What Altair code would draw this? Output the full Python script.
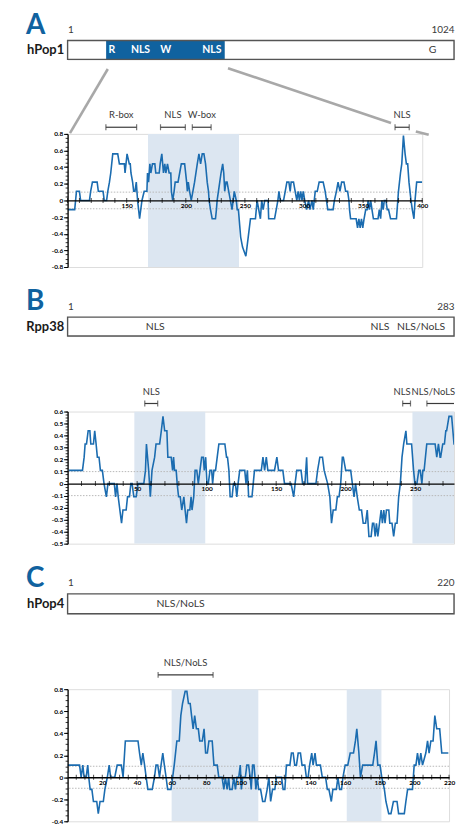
import altair as alt
import pandas as pd

BLUE = "#10629f"
LINE_BLUE = "#1b6cb0"
SHADE = "#dce6f1"
DARK = "#3a3a3a"
CONN = "#a8a8a8"
FONT = "Lato"

# ---------------- Panel A : hPop1 ----------------
A_LETTER = "A"
A_NAME = "hPop1"
A_LEN = 1024
A_DOMAIN = [103, 417]
A_WHITE_TXT = ["R", "NLS", "W", "NLS"]
A_WHITE_POS = [118, 194, 261, 383]
A_GRAY_TXT = ["G"]
A_GRAY_POS = [967]

A_RES = [100, 106, 107.5, 110, 111, 118.5, 119.5, 121, 125, 126, 130, 131, 133, 134, 135.4, 136.5,
         138.2, 142.4, 143.8, 148, 148.6, 150.3, 152.2, 153, 153.6, 155, 155.9, 157, 158.1, 159.2,
         160.9, 162.9, 164.8, 167.1, 167.6, 168.5, 169.6, 170.4, 171.8, 173.8, 174.6, 177.5, 178.3,
         179.7, 181.1, 182.2, 183.1, 184.5, 185.9, 187.3, 187.8, 188.9, 190.1, 191, 193.4, 194.8,
         196.2, 199, 200.7, 201.3, 202.1, 203.2, 204.6, 206, 207.4, 209.7, 211.1, 212.5, 213.9,
         215.3, 216.7, 218.1, 219.2, 219.7, 220.9, 222.3, 225.1, 225.9, 226.5, 227.6, 228.7, 229.8,
         231.2, 232.1, 232.9, 234, 234.9, 236.3, 237.7, 239.1, 241, 242.7, 243.5, 244.5, 246.4,
         248, 250.8, 252.8, 254.7, 258.9, 260.3, 261.7, 263.1, 264.2, 265.4, 266.8, 269.6, 270.1,
         275.1, 276.5, 277.9, 278.8, 279.9, 282.7, 284.1, 285.5, 287.2, 288.3, 289.1, 291.1, 292.5,
         293.9, 295, 296.1, 297.2, 298.3, 299.4, 300.6, 302.2, 303.9, 305, 306.7, 307.8, 309.5,
         311.2, 312.8, 316.2, 317.9, 319, 320.1, 324.6, 325.7, 327.4, 328.8, 330.4, 331.8, 333.8,
         335.2, 336.9, 338, 338.5, 339.4, 344.1, 345.3, 346.4, 347.5, 348.6, 349.7, 350.8, 352.2,
         353.4, 354.2, 355.3, 356.4, 357.5, 358.7, 362.6, 363.7, 364.8, 365.9, 367, 367.9, 369.3,
         370.4, 371.5, 373.2, 378.2, 379.9, 381.6, 382.7, 384.1, 385.5, 386.6, 387.7, 388.8, 390.5,
         391.6, 393, 393.9, 395.3, 400]
A_VAL = [-0.11, -0.11, 0.11, 0.11, 0, 0, 0.11, 0.22, 0.22, 0.11, 0.11, 0, 0, 0.11, 0.22, 0.33,
         0.56, 0.56, 0.44, 0.44, 0.33, 0.56, 0.44, 0.44, 0.33, 0.22, 0.11, 0.11, 0.22, 0,
         -0.22, 0, 0.11, 0.11, 0.33, 0.22, 0.44, 0.33, 0.44, 0.44, 0.33, 0.33, 0.44,
         0.56, 0.33, 0.44, 0.33, 0.44, 0.33, 0.33, 0.11, 0, 0.11, 0.22, 0.22, 0.33,
         0.44, 0.44, 0.22, 0.11, 0.22, 0.11, 0, 0.11, 0.22, 0.44, 0.56, 0.44, 0.56,
         0.56, 0.44, 0.22, 0.11, 0, -0.11, -0.22, -0.22, -0.11, 0, 0.11, 0.22, 0.33,
         0.44, 0.33, 0.11, 0.22, 0.22, 0.11, 0, -0.11, 0.11, 0, -0.11, -0.11, -0.44,
         -0.56, -0.67, -0.44, -0.22, -0.22, 0, -0.11, -0.22, 0, -0.11, 0, 0, -0.22,
         -0.22, -0.11, 0, 0.11, 0, 0, 0.11, 0.22, 0.22, 0.11, 0.22, 0.22, 0.11,
         0, 0.11, 0, 0.11, 0, 0.11, 0, -0.11, 0, -0.11, 0, -0.11, 0.11,
         0.11, 0.22, 0.22, 0.11, 0, -0.11, -0.11, 0, 0.11, 0.22, 0.11, 0.22, 0.22,
         0.11, 0.11, 0, -0.11, -0.22, -0.22, -0.33, -0.22, -0.33, -0.22, -0.33, -0.22, -0.11,
         -0.11, 0, -0.11, 0, -0.11, -0.22, -0.22, -0.11, -0.22, 0, -0.11, 0, 0,
         -0.11, -0.11, -0.22, -0.22, 0.11, 0.33, 0.44, 0.78, 0.56, 0.44, 0.44, 0.22, 0,
         -0.11, -0.22, 0, 0.22, 0.22]
A_SHADE_START = [168]
A_SHADE_END = [245]
A_BR_LABEL = ["R-box", "NLS", "W-box", "NLS"]
A_BR_START = [132.4, 178.6, 205.5, 377]
A_BR_END = [158.4, 199.6, 221.4, 389]
A_BR_CAPS = [132.4, 158.4, 178.6, 199.6, 205.5, 221.4, 377, 389]
A_BR_TEXT_X = [145.4, 189.1, 213.5, 383]
A_BR_LEVEL = 0.88
A_CONN_SEG = ["l", "l", "r1", "r1", "r2", "r2"]
A_CONN_X = [102, 134, 235.7, 373.6, 394.6, 405.5]
A_CONN_Y = [0.81, 1.58, 1.59, 0.93, 0.83, 0.79]

# ---------------- Panel B : Rpp38 ----------------
B_LETTER = "B"
B_NAME = "Rpp38"
B_LEN = 283
B_GRAY_TXT = ["NLS", "NLS", "NLS/NoLS"]
B_GRAY_POS = [65, 229, 259]

B_RES = [1, 10.7, 11.9, 12.6, 13.6, 14.8, 16, 16.7, 18.6, 19.5, 20.5, 21.4, 22.6, 23.6, 25, 26.2,
         27.9, 29, 33.6, 34.5, 35.5, 36.4, 37.6, 38.8, 39.8, 42.1, 43.1, 44.5, 45.5, 46.4, 47.6,
         49.3, 50.7, 54.8, 56, 56.7, 58.3, 59.5, 60.7, 62.6, 63.6, 66.2, 67.4, 68.6, 69.8, 71.4,
         72.1, 74.5, 75.5, 76.2, 76.9, 78.1, 78.8, 79.8, 81, 82.1, 83.6, 84.5, 85.5, 86.4, 87.9,
         88.8, 89.5, 90.7, 91.7, 92.9, 94, 95.2, 96.4, 97.6, 98.3, 99.3, 100.2, 101.2, 102.4,
         103.6, 104.3, 105.2, 106.4, 107.6, 108.8, 113.1, 114.3, 115, 116, 116.9, 118.3, 119.3,
         120.7, 121.7, 122.6, 123.8, 127.4, 128.3, 129.3, 130.2, 132.6, 133.5, 134.4, 139.3,
         140.5, 141.7, 142.9, 144, 148.8, 150.5, 151.7, 154.8, 156, 160.7, 162.6, 163.6, 164.8,
         167.9, 169, 170.7, 171.9, 172.6, 178.6, 179.8, 181.4, 183.3, 184.5, 187, 188.6, 189.8,
         191, 192.9, 194, 195.2, 196.4, 197.6, 198.3, 200, 203.6, 204.8, 206, 207.1, 208.3,
         209.8, 211.4, 212.6, 214.3, 215.5, 216.7, 218.3, 219.3, 220.2, 221.2, 222.1, 223.1,
         224.3, 225.5, 226.4, 227.4, 228.3, 229.3, 231, 231.7, 233.3, 234.5, 235.7, 236.9, 238.1,
         239.3, 240.5, 241.7, 243.3, 244, 247.4, 248.8, 249.8, 251.2, 252.6, 253.6, 254.8, 255.5,
         256.4, 258.3, 264.3, 265.5, 266.7, 267.9, 268.3, 269.8, 271, 272, 272.6, 274.3, 276.2,
         277.9, 283]
B_VAL = [0.11, 0.11, 0.22, 0.33, 0.33, 0.44, 0.44, 0.33, 0.33, 0.44, 0.33, 0.22, 0.22, 0.11, 0.11, 0,
         -0.11, 0, 0, -0.11, 0, -0.11, -0.22, -0.33, -0.22, -0.22, -0.11, -0.11, 0, 0, -0.11,
         -0.11, 0, 0, 0.11, 0.33, 0.11, -0.11, 0.11, 0.22, 0.33, 0.33, 0.44, 0.56, 0.44, 0.44,
         0.22, 0.22, 0.11, 0.22, 0.11, 0.11, 0, -0.11, -0.11, -0.22, -0.11, -0.22, -0.33, -0.22, -0.22,
         -0.11, -0.22, -0.11, 0.11, 0.11, 0, 0.11, 0.22, 0.22, 0.11, 0.22, 0, 0, 0.11,
         0.11, 0, 0.11, 0.11, 0.22, 0.33, 0.33, 0.22, 0.22, 0.11, -0.11, -0.11, 0,
         0, -0.11, 0, 0.11, 0.11, 0, 0.11, -0.11, -0.11, 0, 0.11, 0.11,
         0.22, 0.11, 0.22, 0.11, 0.11, 0.22, 0.11, 0.11, 0, 0, -0.11, 0, 0.11,
         0.11, 0, 0, 0.22, 0, 0, 0.11, 0.22, 0.22, 0.11, 0, -0.11, -0.33,
         -0.22, -0.22, -0.11, -0.11, 0, 0.22, 0.22, 0.11, 0.11, 0, -0.11, 0, -0.11,
         -0.22, -0.22, -0.33, -0.33, -0.22, -0.44, -0.44, -0.33, -0.33, -0.44, -0.33, -0.44,
         -0.33, -0.22, -0.33, -0.22, -0.33, -0.22, -0.22, -0.33, -0.33, -0.44, -0.33, -0.33, -0.11,
         0, 0.22, 0.33, 0.44, 0.33, 0.33, 0.11, 0, 0, 0.11, 0.11, 0, 0.11,
         0.11, 0.33, 0.33, 0.22, 0.33, 0.22, 0.22, 0.33, 0.33, 0.44, 0.44, 0.56, 0.56,
         0.33, 0.33]
B_SHADE_START = [48, 248]
B_SHADE_END = [99, 283]
B_BR_LABEL = ["NLS", "NLS", "NLS/NoLS"]
B_BR_START = [55.5, 241, 258.4]
B_BR_END = [64.8, 246.6, 277.9]
B_BR_CAPS = [55.5, 64.8, 241, 246.6, 258.4]
B_BR_TEXT_X = [60.2, 240.5, 263]
B_BR_LEVEL = 0.667

# ---------------- Panel C : hPop4 ----------------
C_LETTER = "C"
C_NAME = "hPop4"
C_LEN = 220
C_GRAY_TXT = ["NLS/NoLS"]
C_GRAY_POS = [65]

C_RES = [0, 6.9, 7.8, 8.8, 9.5, 10.7, 11.6, 12.2, 13, 14, 14.9, 16.8, 17.7, 18.7, 20.6, 21.5, 22.9,
         24, 24.8, 27.2, 28.6, 31, 32, 33.3, 40.6, 41.5, 42.5, 43.4, 44.4, 45.3, 46.3, 48.8, 50.1,
         51, 52, 53, 53.9, 54.9, 55.8, 56.8, 57.7, 59.6, 60.6, 61.5, 63, 64.4, 65.3, 66.3, 67.8,
         68.8, 69.7, 70.7, 71.5, 72.4, 73.3, 74.3, 75.4, 76.2, 77.7, 78.7, 79.6, 80.6, 81.5, 83.4,
         84.4, 86.3, 87.2, 89.1, 90.1, 91, 92, 92.9, 93.5, 94.9, 95.8, 96.8, 97.7, 98.7, 99.6,
         100.2, 101, 102.5, 103.4, 104.4, 105.3, 105.9, 106.7, 107.5, 108.1, 108.6, 109.4, 110.2,
         111.3, 112.5, 113.8, 115.1, 116.1, 117.1, 118.2, 119.5, 120.5, 123.4, 124.3, 125.3, 126.2,
         128.2, 129.1, 130.1, 131, 132, 133, 134.3, 135.2, 136.8, 137.7, 138.7, 139.6, 140.8, 141.6,
         142.7, 143.5, 145.8, 146.9, 148.8, 149.8, 150.7, 152.1, 153, 155, 155.9, 156.9, 158, 158.8,
         160.1, 161.6, 163, 164.9, 166, 166.8, 168, 168.9, 170.2, 176, 177, 177.9, 178.9, 180.2,
         181.2, 182.7, 183.6, 185.2, 186.5, 187.9, 190, 190.9, 194.2, 195.1, 196.1, 198.9, 199.9,
         200.9, 201.8, 202.8, 203.7, 204.7, 206.6, 207.6, 208.5, 209.5, 210.8, 211.8, 212.9, 214.6,
         215.8, 219.6]
C_VAL = [0.11, 0.11, 0, 0.11, 0, 0, 0.11, 0, -0.11, -0.11, -0.22, -0.22, -0.33, -0.22, -0.22, -0.11, 0,
         0.11, 0, 0, 0.11, 0.11, 0, 0.33, 0.33, 0.22, 0.11, 0.22, 0.11, 0, -0.11, -0.11, 0,
         0.11, 0.11, 0, 0.11, 0.22, 0.11, 0, -0.11, -0.11, 0, 0.11, 0.33, 0.33, 0.56, 0.67, 0.78,
         0.78, 0.67, 0.67, 0.56, 0.44, 0.56, 0.44, 0.44, 0.33, 0.33, 0.44, 0.22, 0.22, 0.33, 0.33,
         0.11, 0.11, 0, 0, -0.11, 0, -0.11, 0, -0.11, -0.11, 0, -0.11, 0, 0, 0.11,
         -0.11, 0, 0, 0.11, 0.11, 0, -0.11, 0.11, 0.11, 0, -0.11, 0, -0.11,
         -0.11, -0.22, -0.22, -0.11, 0, -0.22, -0.11, -0.11, 0, 0, -0.11, -0.11, 0.11,
         0.11, 0.22, 0.22, 0.11, 0.11, 0.22, 0.22, 0.11, 0.11, 0, 0, 0.11, 0.22, 0.11,
         0.22, 0.11, 0.11, 0, 0, -0.11, -0.11, -0.22, -0.11, -0.11, 0, -0.11, -0.11, 0,
         0.11, 0.11, 0.22, 0.22, 0.33, 0.44, 0.22, 0, 0.11, 0.11, 0.22, 0.33, 0.11, 0.11,
         0, -0.11, -0.22, -0.33, -0.33, -0.22, -0.22, -0.33, -0.33, -0.22, -0.11, -0.11, 0.11,
         0.11, 0.22, 0.11, 0.22, 0.11, 0.22, 0.33, 0.22, 0.33, 0.33, 0.56, 0.44, 0.44,
         0.22, 0.22]
C_SHADE_START = [60, 161]
C_SHADE_END = [110, 181]
C_BR_LABEL = ["NLS/NoLS"]
C_BR_START = [52.2]
C_BR_END = [83.9]
C_BR_CAPS = [52.2, 83.9]
C_BR_TEXT_X = [68]
C_BR_LEVEL = 0.93

Y_LABEL_EXPR = ("datum.value == 0 ? '0' : (datum.value < 0 ? '-' + format(-datum.value, '.1f') "
                ": format(datum.value, '.1f'))")


def schematic(letter, name, length, w, h, domain=None, white_txt=(), white_pos=(), gray_txt=(), gray_pos=()):
    xs = alt.Scale(domain=[1, length], nice=False, zero=False)
    top_axis = alt.Axis(orient="top", values=[1, length], title=None, ticks=False, domain=False,
                        grid=False, labelFont=FONT, labelFontSize=10, labelColor=DARK, format="d",
                        labelPadding=6, labelFlush=True, labelOverlap=False, labelBound=False)
    yband = alt.Y("protein:N", title=None, scale=alt.Scale(paddingInner=0, paddingOuter=0),
                  axis=alt.Axis(ticks=False, domain=False, labelFont=FONT, labelFontSize=13,
                                labelFontWeight="bold", labelColor="#1a1a1a", labelPadding=4))
    box = pd.DataFrame({"protein": [name], "x": [1], "x2": [length]})
    layers = [alt.Chart(box).mark_rect(fill="white").encode(
        x=alt.X("x:Q", scale=xs, axis=top_axis), x2="x2:Q", y=yband)]
    if domain:
        dom = pd.DataFrame({"protein": [name], "x": [domain[0]], "x2": [domain[1]]})
        layers.append(alt.Chart(dom).mark_rect(fill=BLUE).encode(
            x=alt.X("x:Q", scale=xs, axis=top_axis), x2="x2:Q", y=yband))
    if white_txt:
        wt = pd.DataFrame({"protein": [name] * len(white_txt), "x": list(white_pos), "t": list(white_txt)})
        layers.append(alt.Chart(wt).mark_text(font=FONT, fontSize=10.5, fontWeight="bold",
                                              color="white", baseline="middle").encode(
            x=alt.X("x:Q", scale=xs, axis=top_axis), y=yband, text="t:N"))
    if gray_txt:
        gt = pd.DataFrame({"protein": [name] * len(gray_txt), "x": list(gray_pos), "t": list(gray_txt)})
        layers.append(alt.Chart(gt).mark_text(font=FONT, fontSize=10.5, color=DARK,
                                              baseline="middle").encode(
            x=alt.X("x:Q", scale=xs, axis=top_axis), y=yband, text="t:N"))
    layers.append(alt.Chart(box).mark_rect(fillOpacity=0, stroke="#555555", strokeWidth=1.4).encode(
        x=alt.X("x:Q", scale=xs, axis=top_axis), x2="x2:Q", y=yband))
    return alt.layer(*layers).properties(
        width=w, height=h,
        title=alt.TitleParams(letter, anchor="start", frame="group", dx=-42, offset=-15, fontSize=28,
                              fontWeight="bold", color=BLUE, font=FONT))


def profile(res, val, xdom, ydom, w, h, xlabels, xticks, ymajor, yminor,
            sh_s, sh_e, br_lab, br_s, br_e, br_caps, br_tx, br_level, conn=None):
    xs = alt.Scale(domain=xdom, nice=False, zero=False)
    ys = alt.Scale(domain=ydom, nice=False, zero=False)
    zero_off = -h * (0 - ydom[0]) / (ydom[1] - ydom[0])
    xaxis = alt.Axis(values=xlabels, title=None, grid=False, ticks=False, domainColor="black",
                     domainWidth=1.3, labelFont=FONT, labelFontSize=6.5, labelFontWeight="bold",
                     labelColor="black", labelPadding=2, offset=zero_off, labelFlush=False,
                     labelOverlap=False, labelBound=False, zindex=1)
    ymaj = alt.Axis(values=ymajor, title=None, grid=False, orient="left", tickSize=4,
                    tickColor="black", tickWidth=1, domainColor="black", domainWidth=1.3,
                    labelFont=FONT, labelFontSize=6.5, labelFontWeight="bold", labelColor="black",
                    labelPadding=1, labelExpr=Y_LABEL_EXPR, zindex=1)
    ymin = alt.Axis(values=yminor, title=None, grid=False, orient="left", tickSize=2.5,
                    tickColor="black", tickWidth=0.8, labels=False, domain=False, zindex=1)

    X = lambda f="x": alt.X(f + ":Q", scale=xs, axis=xaxis)
    Y = lambda f="y", ax=None: alt.Y(f + ":Q", scale=ys, axis=ax)

    shade = alt.Chart(pd.DataFrame({"x": sh_s, "x2": sh_e})).mark_rect(color=SHADE, clip=True).encode(
        x=X(), x2="x2:Q")
    dots = alt.Chart(pd.DataFrame({"y": [0.1, -0.1]})).mark_rule(
        color="#b8b8b8", strokeDash=[1.5, 1.5], strokeWidth=1).encode(y=Y("y", ymin))
    line = alt.Chart(pd.DataFrame({"x": res, "y": val})).mark_line(
        color=LINE_BLUE, strokeWidth=1.6, clip=True).encode(x=X(), y=Y("y", ymaj))
    ticks = alt.Chart(pd.DataFrame({"x": xticks, "y": [0] * len(xticks)})).mark_tick(
        orient="vertical", size=5, thickness=1, color="black").encode(x=X(), y=Y())
    br_df = pd.DataFrame({"x": br_s, "x2": br_e, "y": [br_level] * len(br_s)})
    br = alt.Chart(br_df).mark_rule(color=DARK, strokeWidth=1.2).encode(x=X(), x2="x2:Q", y=Y())
    caps_df = pd.DataFrame({"x": br_caps, "y": [br_level] * len(br_caps)})
    caps = alt.Chart(caps_df).mark_tick(orient="vertical", size=6, thickness=1.2, color=DARK).encode(
        x=X(), y=Y())
    labs = alt.Chart(pd.DataFrame({"x": br_tx, "y": [br_level] * len(br_tx), "t": br_lab})).mark_text(
        font=FONT, fontSize=9.5, color=DARK, baseline="alphabetic", dy=-9).encode(
        x=X(), y=Y(), text="t:N")
    layers = [shade, dots, line, ticks, br, caps, labs]
    if conn is not None:
        cx, cy, cs = conn
        layers.append(alt.Chart(pd.DataFrame({"x": cx, "y": cy, "s": cs})).mark_line(
            color=CONN, strokeWidth=2.6).encode(x=X(), y=Y(), detail="s:N"))
    return alt.layer(*layers).resolve_axis(y="independent").properties(width=w, height=h)


def steps(a, b, s):
    return [round(a + s * i, 3) for i in range(int(round((b - a) / s)) + 1)]


schemA = schematic(A_LETTER, A_NAME, A_LEN, 389, 19, A_DOMAIN, A_WHITE_TXT, A_WHITE_POS, A_GRAY_TXT, A_GRAY_POS)
plotA = profile(A_RES, A_VAL, [100, 400], [-0.8, 0.8], 357, 134,
                [150, 200, 250, 300, 350, 400], list(range(100, 401, 10)),
                [-0.8, -0.6, -0.4, -0.2, 0, 0.2, 0.4, 0.6, 0.8], steps(-0.8, 0.8, 0.05),
                A_SHADE_START, A_SHADE_END, A_BR_LABEL, A_BR_START, A_BR_END, A_BR_CAPS, A_BR_TEXT_X,
                A_BR_LEVEL, conn=(A_CONN_X, A_CONN_Y, A_CONN_SEG))

schemB = schematic(B_LETTER, B_NAME, B_LEN, 389, 19, None, (), (), B_GRAY_TXT, B_GRAY_POS)
plotB = profile(B_RES, B_VAL, [0, 277.9], [-0.5, 0.6], 389, 133,
                [50, 100, 150, 200, 250], list(range(10, 278, 10)),
                [-0.5, -0.4, -0.3, -0.2, -0.1, 0, 0.1, 0.2, 0.3, 0.4, 0.5, 0.6], steps(-0.5, 0.6, 0.025),
                B_SHADE_START, B_SHADE_END, B_BR_LABEL, B_BR_START, B_BR_END, B_BR_CAPS, B_BR_TEXT_X,
                B_BR_LEVEL)

schemC = schematic(C_LETTER, C_NAME, C_LEN, 389, 20, None, (), (), C_GRAY_TXT, C_GRAY_POS)
plotC = profile(C_RES, C_VAL, [0, 220], [-0.4, 0.8], 384, 133,
                [20, 40, 60, 80, 100, 120, 140, 160, 180, 200, 220], list(range(5, 221, 5)),
                [-0.4, -0.2, 0, 0.2, 0.4, 0.6, 0.8], steps(-0.4, 0.8, 0.05),
                C_SHADE_START, C_SHADE_END, C_BR_LABEL, C_BR_START, C_BR_END, C_BR_CAPS, C_BR_TEXT_X,
                C_BR_LEVEL)

panelA = alt.vconcat(schemA, plotA, spacing=75, bounds="flush")
panelB = alt.vconcat(schemB, plotB, spacing=76, bounds="flush")
panelC = alt.vconcat(schemC, plotC, spacing=76, bounds="flush")

chart = alt.vconcat(panelA, panelB, panelC, spacing=16.5).properties(
    padding={"left": 17, "top": 0, "right": 0, "bottom": 0}
).configure_view(strokeOpacity=0).configure(background="white")

chart.save("out.html", embed_options={"renderer": "svg", "actions": False})
